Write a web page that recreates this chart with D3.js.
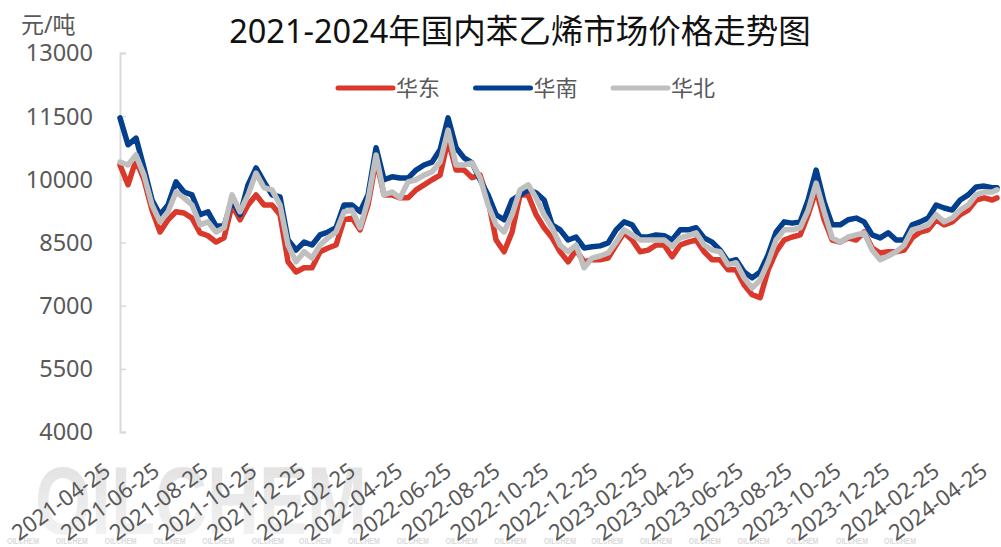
<!DOCTYPE html>
<html><head><meta charset="utf-8">
<script src="https://cdn.jsdelivr.net/npm/d3@7"></script>
<style>
html,body{margin:0;padding:0;background:#fff;}
svg{display:block;font-family:"Noto Sans","Noto Sans CJK SC",sans-serif;}
</style>
</head><body>
<svg id="chart" width="1001" height="547"></svg>
<script>
const chartTitle = "2021-2024年国内苯乙烯市场价格走势图";
const unitLabel = "元/吨";
const seriesNames = ["华东", "华南", "华北"];
const seriesColors = ["#d9382b", "#033f8c", "#bfbfbf"];
const startDate = "2021-04-25";
const endDate = "2024-04-25";
const sampleStepDays = 10;
const eastChina = [10340,9870,10460,9990,9270,8750,9040,9230,9200,9080,
  8730,8660,8510,8610,9390,9040,9390,9630,9390,9390,
  9160,8040,7800,7900,7900,8280,8370,8440,9040,9080,
  8800,9390,10460,9630,9630,9560,9560,9750,9870,9990,
  10100,10940,10220,10220,10040,10100,9510,8560,8280,8750,
  9630,9630,9160,8850,8610,8280,8040,8320,8040,8090,
  8090,8130,8440,8730,8560,8280,8320,8440,8440,8160,
  8440,8510,8560,8280,8090,8090,7850,7850,7490,7260,
  7190,7850,8280,8560,8630,8680,9160,9750,9040,8560,
  8510,8610,8560,8750,8370,8250,8280,8280,8320,8610,
  8750,8800,9040,8920,8990,9160,9270,9510,9560,9510,
  9560];
const southChina = [11460,10820,10980,10270,9510,9160,9390,9940,9700,9630,
  9160,9230,8890,8890,9510,9160,9870,10270,9940,9630,
  9580,8560,8320,8510,8440,8680,8750,8850,9390,9390,
  9230,9630,10750,9990,10060,10030,10030,10220,10340,10410,
  10700,11460,10750,10510,10390,9990,9630,9160,9040,9510,
  9630,9750,9680,9510,8920,8800,8560,8630,8370,8400,
  8420,8490,8800,8990,8920,8630,8630,8680,8660,8560,
  8800,8800,8850,8610,8510,8320,8040,8090,7800,7660,
  7800,8210,8750,8990,8960,8990,9510,10220,9460,8920,
  8920,9040,9080,8990,8680,8610,8730,8560,8560,8920,
  8990,9080,9390,9320,9270,9510,9630,9820,9840,9800,
  9800];
const northChina = [10410,10340,10580,10100,9390,8990,9230,9700,9560,9390,
  8920,8990,8750,8850,9630,9230,9630,10150,9800,9750,
  9390,8440,8040,8280,8130,8440,8610,8750,9230,9270,
  8850,9510,10580,9630,9700,9560,9940,9990,10100,10180,
  10410,11170,10340,10340,10390,10040,9390,8920,8750,9160,
  9750,9870,9560,9160,8850,8440,8280,8440,7900,8130,
  8180,8250,8510,8800,8680,8560,8560,8560,8560,8400,
  8610,8660,8730,8440,8320,8280,7970,8020,7660,7420,
  7610,8040,8560,8800,8800,8850,9270,9910,9230,8610,
  8510,8630,8680,8730,8320,8090,8180,8280,8440,8800,
  8850,8920,9160,8990,9080,9270,9390,9630,9700,9700,
  9750];
const yTickValues = [4000, 5500, 7000, 8500, 10000, 11500, 13000];
const xTickLabels = ["2021-04-25","2021-06-25","2021-08-25","2021-10-25","2021-12-25",
  "2022-02-25","2022-04-25","2022-06-25","2022-08-25","2022-10-25","2022-12-25",
  "2023-02-25","2023-04-25","2023-06-25","2023-08-25","2023-10-25","2023-12-25",
  "2024-02-25","2024-04-25"];

const parse = d3.utcParse("%Y-%m-%d");
const t0 = parse(startDate), t1 = parse(endDate);
const dates = [];
for (let i = 0; i < eastChina.length - 1; i++) dates.push(d3.utcDay.offset(t0, i * sampleStepDays));
dates.push(t1);

const svg = d3.select("#chart");
const x = d3.scaleUtc().domain([t0, t1]).range([120, 997]);
const y = d3.scaleLinear().domain([4000, 13000]).range([432, 53]);
const textColor = "#595959";

// watermark
const defs = svg.append("defs");
const grad = defs.append("linearGradient").attr("id","wm").attr("x1",0).attr("y1",0).attr("x2",0).attr("y2",1);
grad.append("stop").attr("offset","0%").attr("stop-color","#d4d4d4");
grad.append("stop").attr("offset","100%").attr("stop-color","#f4f4f4");
svg.append("text").attr("x", 35).attr("y", 534)
  .attr("font-size", 96).attr("font-weight", "bold")
  .attr("font-family", "'Liberation Sans', Arial, sans-serif")
  .attr("textLength", 332).attr("lengthAdjust", "spacingAndGlyphs")
  .attr("fill", "url(#wm)").attr("opacity", 0.75).text("OILCHEM");
svg.append("g").selectAll("text").data(xTickLabels).join("text")
  .attr("x", d => x(parse(d)) - 113).attr("y", 544)
  .attr("font-size", 9).attr("font-weight", "bold")
  .attr("font-family", "'Liberation Sans', Arial, sans-serif")
  .attr("textLength", 32).attr("lengthAdjust", "spacingAndGlyphs")
  .attr("fill", "#dadada").text("OILCHEM");

// title
svg.append("text").attr("x", 520).attr("y", 43).attr("text-anchor", "middle")
  .attr("font-size", 32.5).attr("fill", "#111").text(chartTitle);
svg.append("text").attr("x", 21).attr("y", 33).attr("font-size", 23)
  .attr("fill", textColor).text(unitLabel);

// y axis
const yAxis = d3.axisRight(y).tickValues(yTickValues).tickSize(6).tickFormat("");
const ya = svg.append("g").attr("transform", "translate(120,0)").call(yAxis);
ya.select(".domain").attr("stroke", "#d9d9d9").attr("stroke-width", 2);
ya.selectAll(".tick line").attr("stroke", "#d9d9d9").attr("stroke-width", 1.5);
svg.append("g").selectAll("text").data(yTickValues).join("text")
  .attr("x", 93).attr("y", d => y(d)).attr("dy", "0.36em").attr("text-anchor", "end")
  .attr("font-size", 23.5).attr("fill", textColor).text(d => d);

// x labels
svg.append("g").selectAll("text").data(xTickLabels).join("text")
  .attr("transform", d => `translate(${x(parse(d)) - 8},474) rotate(-36)`)
  .attr("text-anchor", "end").attr("font-size", 22).attr("fill", textColor).text(d => d);

// lines
const allSeries = [eastChina, southChina, northChina];
const line = d3.line().x((d, i) => x(dates[i])).y(d => y(d));
svg.append("g").selectAll("path").data(allSeries).join("path")
  .attr("d", d => line(d)).attr("fill", "none")
  .attr("stroke", (d, i) => seriesColors[i]).attr("stroke-width", 5.5)
  .attr("stroke-linejoin", "round").attr("stroke-linecap", "round");

// legend
const lg = svg.append("g").selectAll("g").data(seriesNames).join("g")
  .attr("transform", (d, i) => `translate(${338 + i * 137.5},88)`);
lg.append("line").attr("x1", 0).attr("x2", 55).attr("y1", 0).attr("y2", 0)
  .attr("stroke", (d, i) => seriesColors[i]).attr("stroke-width", 5).attr("stroke-linecap", "round");
lg.append("text").attr("x", 58).attr("y", 0).attr("dy", "0.36em")
  .attr("font-size", 22).attr("fill", textColor).text(d => d);
</script>
</body></html>
